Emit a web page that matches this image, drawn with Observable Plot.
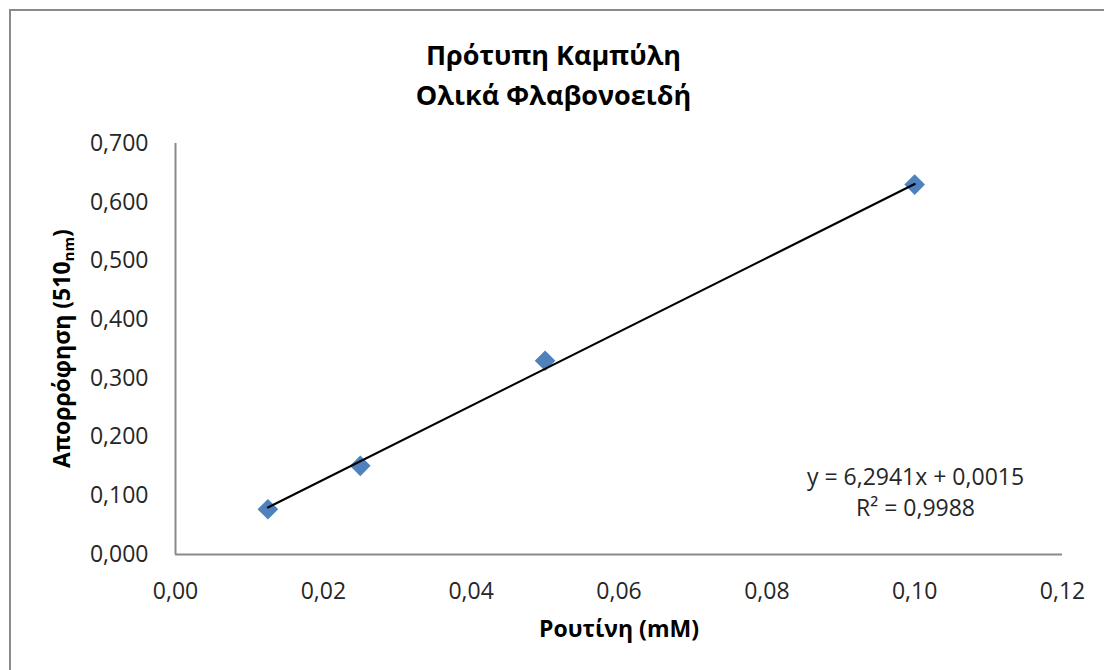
<!DOCTYPE html>
<html>
<head>
<meta charset="utf-8">
<script src="https://cdn.jsdelivr.net/npm/d3@7"></script>
<script src="https://cdn.jsdelivr.net/npm/@observablehq/plot@0.6"></script>
<style>
  html, body { margin: 0; padding: 0; background: #fff; overflow: hidden; }
  #wrap { position: relative; width: 1104px; height: 670px; overflow: hidden; }
  #border { position: absolute; left: 9px; top: 9px; width: 1300px; height: 900px; border: 2px solid #8a8a8a; box-sizing: border-box; }
  #chart { position: absolute; left: 0; top: 0; }
</style>
</head>
<body>
<div id="wrap"><div id="border"></div><div id="chart"></div></div>
<script>
// Data
const rutin = [0.0125, 0.025, 0.05, 0.1];          // Ρουτίνη (mM)
const absorbance = [0.077, 0.151, 0.330, 0.630];   // Απορρόφηση (510 nm)
const xTicks = [0, 0.02, 0.04, 0.06, 0.08, 0.10, 0.12];
const yTicks = [0, 0.1, 0.2, 0.3, 0.4, 0.5, 0.6, 0.7];
const slope = 6.2941;
const intercept = 0.0015;
const rSquared = "0,9988";
const trendX = [0.0125, 0.1];
const titleLines = ["Πρότυπη Καμπύλη", "Ολικά Φλαβονοειδή"];
const xLabel = "Ρουτίνη (mM)";

const points = rutin.map((x, i) => ({x, y: absorbance[i]}));
const trend = trendX.map(x => ({x, y: slope * x + intercept}));
const fmt = (v, d) => v.toFixed(d).replace(".", ",");
const eqText = `y = ${fmt(slope, 4)}x + ${fmt(intercept, 4)}\nR² = ${rSquared}`;

const FONT = "'Open Sans', 'Liberation Sans', sans-serif";
const W = 1104, H = 670, ML = 175, MR = 42, MT = 143, MB = 116;

const chart = Plot.plot({
  width: W,
  height: H,
  marginLeft: ML,
  marginRight: MR,
  marginTop: MT,
  marginBottom: MB,
  style: {fontFamily: FONT, fontSize: "23px", color: "#262626", background: "transparent"},
  x: {domain: [0, 0.12], ticks: xTicks, tickFormat: d => fmt(d, 2), label: null},
  y: {domain: [0, 0.7], ticks: yTicks, tickFormat: d => fmt(d, 3), label: null},
  marks: [
    Plot.axisX({ticks: xTicks, tickSize: 0, tickPadding: 28, tickFormat: d => fmt(d, 2), label: null, fontSize: 23}),
    Plot.axisY({ticks: yTicks, tickSize: 0, tickPadding: 27, tickFormat: d => fmt(d, 3), label: null, fontSize: 23}),
    Plot.ruleX([0], {stroke: "#8a8a8a", strokeWidth: 2}),
    Plot.ruleY([0], {stroke: "#8a8a8a", strokeWidth: 2}),
    Plot.dot(points, {x: "x", y: "y", symbol: "diamond2", r: 9.3, fill: "#4F81BD", stroke: "none"}),
    Plot.line(trend, {x: "x", y: "y", stroke: "#000", strokeWidth: 2.2}),
    Plot.text([eqText], {frameAnchor: "bottom-right", lineAnchor: "middle", textAnchor: "middle", dx: -147, dy: -64, lineHeight: 1.35, fontSize: 23, fill: "#262626"}),
    Plot.text([xLabel], {frameAnchor: "bottom", lineAnchor: "middle", dy: 75, fontSize: 23, fontWeight: "bold", fill: "#000"}),
    Plot.text([titleLines.join("\n")], {frameAnchor: "top", lineAnchor: "middle", dx: -65.5, dy: -71, lineHeight: 1.48, fontSize: 27, fontWeight: "bold", fill: "#000"})
  ]
});

document.getElementById("chart").appendChild(chart);

// Y-axis title with subscript
const svg = d3.select(chart);
const yMid = (MT + (H - MB)) / 2;
const yl = svg.append("text")
  .attr("transform", `translate(64,${yMid}) rotate(-90)`)
  .attr("text-anchor", "middle")
  .attr("dominant-baseline", "middle")
  .attr("font-family", FONT)
  .attr("font-size", 23)
  .attr("font-weight", "bold")
  .attr("fill", "#000");
yl.append("tspan").text("Απορρόφηση (510");
yl.append("tspan").attr("font-size", 15).attr("dy", 6).text("nm");
yl.append("tspan").attr("dy", -6).text(")");
</script>
</body>
</html>
